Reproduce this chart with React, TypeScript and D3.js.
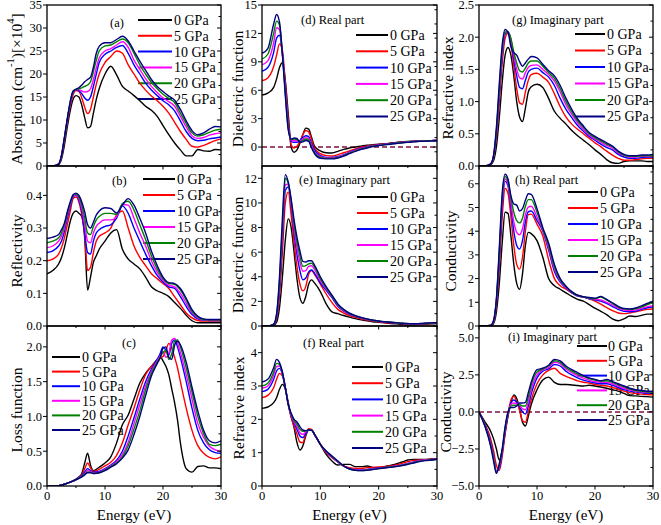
import React from 'react';
import * as d3 from 'd3';

// ---------- shared axes data ----------
const ENERGY = [0,1,2,2.5,3,3.5,4,4.5,5,5.5,6,6.5,7,7.5,8,8.5,9,10,11,12,13,14,15,16,17,18,19,20,21,22,23,24,25,26,27,28,29,30];
const ENERGY_LOSS = [0,1,2,3,4,5,5.5,6,6.5,7,7.5,8,9,10,11,12,13,14,15,16,17,18,19,19.5,20,20.5,21,21.5,22,22.5,23,24,25,26,27,28,29,30];
const PRESSURE_LABELS = ['0 GPa','5 GPa','10 GPa','15 GPa','20 GPa','25 GPa'];
const SERIES_COLORS = ['#000000','#ff0000','#0000ff','#ff00ff','#008000','#000080'];
const X_MAJOR = [0,10,20,30];
const X_MINOR = [5,15,25];

// ---------- (a) absorption ----------
const ABS_0 = [0,0,0.3,1.5,4.5,8.5,12,14.5,15.3,15,13.2,10.5,8.3,8.6,11.5,14.5,16.8,20,21.7,19.8,17.3,16.3,15.3,14.2,13,12.1,10.8,8.8,6.8,5,3.5,2.2,2.2,3.6,3.3,3.2,3.6,3.5];
const ABS_5 = [0,0,0.4,2,5.5,9.5,13,15.5,16.4,16.2,14.8,12.8,11.4,12.3,15,17.8,20,22.5,23.8,25,24.5,22,20,18,16.5,15.2,14.2,13,11.5,9.5,7.5,5.8,4.3,4.1,4.5,5,5.5,5.9];
const ABS_10 = [0,0,0.4,2.2,6,10,13.5,16,16.6,16.4,15.7,14.8,14.3,15,17.3,20,22.5,24.3,25,25.8,26.2,24.5,22,20,18,16.5,15.3,14.2,13.3,12,9.8,7.5,6,5.5,5.6,5.9,6.1,6.3];
const ABS_15 = [0,0,0.4,2.2,6,10,13.6,16.1,16.6,16.6,16.3,16.1,16.2,16.8,18.8,21.3,23.5,25,25.5,26.3,27,25.8,23,21,19,17.3,16,14.8,14,13,10.8,8.5,6.6,6,6.2,6.7,7,7.2];
const ABS_20 = [0,0,0.4,2.3,6,10.2,13.8,16.2,16.6,16.8,17,17.3,17.6,18.3,20.5,23,25,26.1,26.3,27,27.6,26.8,24.5,22,20,18.2,16.8,15.6,14.7,13.8,11.5,9.2,7.2,6.5,6.8,7.3,7.8,8];
const ABS_25 = [0,0,0.4,2.3,6.2,10.3,14,16.3,16.7,17,17.6,18.3,18.8,19.3,21.5,24.5,26,26.8,26.8,27.5,28.2,27.2,25,22.8,20.8,18.8,17.3,16.2,15.2,14.3,12.3,9.8,7.7,6.8,7.2,8,8.6,8.5];

// ---------- (b) reflectivity ----------
const REF_0 = [0.16,0.17,0.19,0.21,0.24,0.28,0.32,0.345,0.352,0.345,0.335,0.27,0.11,0.15,0.195,0.215,0.235,0.26,0.285,0.295,0.235,0.205,0.19,0.175,0.15,0.12,0.108,0.1,0.09,0.072,0.054,0.033,0.016,0.01,0.01,0.01,0.01,0.01];
const REF_5 = [0.2,0.205,0.22,0.24,0.27,0.31,0.35,0.39,0.395,0.38,0.34,0.28,0.17,0.18,0.225,0.26,0.275,0.285,0.3,0.34,0.352,0.3,0.245,0.21,0.185,0.16,0.145,0.13,0.115,0.09,0.065,0.04,0.025,0.017,0.015,0.015,0.015,0.015];
const REF_10 = [0.225,0.23,0.245,0.26,0.29,0.33,0.365,0.395,0.4,0.385,0.35,0.285,0.225,0.22,0.26,0.285,0.295,0.305,0.31,0.33,0.368,0.345,0.3,0.26,0.22,0.185,0.155,0.135,0.12,0.115,0.09,0.06,0.035,0.022,0.018,0.017,0.017,0.017];
const REF_15 = [0.24,0.245,0.26,0.275,0.3,0.34,0.37,0.398,0.402,0.39,0.36,0.31,0.26,0.255,0.285,0.305,0.315,0.325,0.325,0.335,0.372,0.37,0.33,0.285,0.245,0.2,0.165,0.14,0.125,0.12,0.1,0.07,0.04,0.025,0.019,0.018,0.018,0.018];
const REF_20 = [0.255,0.26,0.27,0.285,0.31,0.345,0.375,0.4,0.405,0.395,0.37,0.33,0.285,0.28,0.305,0.325,0.335,0.345,0.345,0.342,0.375,0.382,0.355,0.31,0.265,0.215,0.175,0.145,0.13,0.128,0.11,0.08,0.045,0.028,0.02,0.019,0.019,0.019];
const REF_25 = [0.268,0.272,0.28,0.295,0.315,0.35,0.38,0.402,0.407,0.4,0.38,0.35,0.31,0.3,0.318,0.34,0.352,0.362,0.36,0.346,0.37,0.39,0.37,0.33,0.285,0.23,0.185,0.15,0.133,0.13,0.115,0.085,0.05,0.03,0.022,0.02,0.02,0.02];

// ---------- (c) loss function (on ENERGY_LOSS) ----------
const LOSS_0 = [0,0,0.005,0.025,0.055,0.1,0.13,0.18,0.33,0.47,0.3,0.22,0.27,0.33,0.42,0.62,0.88,1.02,1.25,1.48,1.62,1.72,1.82,1.86,1.8,1.72,1.6,1.4,1.2,0.95,0.62,0.25,0.2,0.28,0.29,0.26,0.26,0.25];
const LOSS_5 = [0,0,0.005,0.025,0.055,0.09,0.12,0.16,0.25,0.33,0.26,0.21,0.24,0.29,0.34,0.44,0.62,0.88,1.12,1.38,1.6,1.72,1.8,1.84,1.86,1.95,2.05,1.98,1.85,1.7,1.5,1.12,0.8,0.58,0.47,0.41,0.39,0.42];
const LOSS_10 = [0,0,0.005,0.025,0.055,0.09,0.12,0.15,0.2,0.25,0.22,0.2,0.21,0.25,0.3,0.37,0.5,0.72,0.98,1.25,1.5,1.68,1.82,1.9,2.0,1.95,1.88,2.05,2.1,2.0,1.85,1.5,1.12,0.8,0.62,0.52,0.48,0.47];
const LOSS_15 = [0,0,0.005,0.025,0.055,0.09,0.115,0.14,0.18,0.22,0.21,0.19,0.2,0.24,0.29,0.35,0.45,0.63,0.9,1.17,1.44,1.65,1.8,1.87,1.93,1.85,1.9,2.1,2.12,2.05,1.92,1.6,1.25,0.9,0.7,0.57,0.52,0.5];
const LOSS_20 = [0,0,0.005,0.025,0.055,0.09,0.11,0.135,0.17,0.2,0.2,0.18,0.19,0.23,0.28,0.33,0.42,0.58,0.82,1.08,1.38,1.62,1.78,1.85,1.92,1.95,1.82,1.9,2.08,2.1,2.0,1.7,1.35,1.0,0.75,0.6,0.58,0.6];
const LOSS_25 = [0,0,0.005,0.025,0.055,0.09,0.11,0.13,0.16,0.19,0.19,0.18,0.19,0.22,0.27,0.32,0.4,0.52,0.74,1.0,1.3,1.58,1.76,1.84,1.98,2.0,1.85,1.82,2.02,2.08,2.03,1.78,1.42,1.08,0.8,0.65,0.62,0.65];

// ---------- (d) dielectric real ----------
const EPS1_0 = [5.5,5.7,6.3,7.2,8.4,8.9,7.0,3.5,0,-0.55,-0.3,0.4,1.3,2.0,1.9,1.0,0.1,-0.4,-0.6,-0.62,-0.45,-0.25,-0.1,0,0.1,0.2,0.25,0.3,0.35,0.42,0.5,0.55,0.6,0.62,0.65,0.67,0.68,0.7];
const EPS1_5 = [7,7.3,8.5,9.7,10.9,10.2,6.8,3.0,0.2,-0.1,0.1,0.6,1.3,1.75,1.6,0.8,-0.1,-0.7,-0.9,-0.95,-0.8,-0.6,-0.4,-0.2,0,0.1,0.2,0.27,0.33,0.4,0.45,0.5,0.55,0.6,0.63,0.66,0.68,0.7];
const EPS1_10 = [8,8.4,10,11.5,11.8,9.8,6.3,2.5,0.6,0.5,0.5,0.7,1.0,1.2,1.1,0.4,-0.3,-0.9,-1.1,-1.1,-1.0,-0.8,-0.55,-0.3,-0.1,0.05,0.15,0.22,0.3,0.37,0.43,0.5,0.55,0.6,0.63,0.66,0.68,0.7];
const EPS1_15 = [8.7,9.1,11,12.6,12.4,9.8,6.0,2.2,0.7,0.7,0.65,0.6,0.85,1.0,0.9,0.2,-0.5,-1.0,-1.15,-1.15,-1.05,-0.85,-0.6,-0.35,-0.15,0,0.12,0.2,0.28,0.35,0.42,0.48,0.54,0.58,0.62,0.65,0.67,0.7];
const EPS1_20 = [9.3,9.8,12,13.3,12.9,9.8,5.7,2.0,0.8,0.85,0.8,0.55,0.7,0.85,0.75,0,-0.6,-1.1,-1.2,-1.2,-1.1,-0.9,-0.65,-0.4,-0.2,-0.05,0.08,0.18,0.26,0.33,0.4,0.46,0.52,0.57,0.61,0.64,0.66,0.68];
const EPS1_25 = [9.9,10.4,13,14,13.2,9.8,5.4,1.8,0.85,0.95,0.9,0.5,0.55,0.7,0.6,-0.1,-0.7,-1.2,-1.25,-1.25,-1.15,-0.95,-0.7,-0.45,-0.25,-0.1,0.05,0.15,0.23,0.3,0.38,0.44,0.5,0.55,0.6,0.63,0.65,0.67];

// ---------- (e) dielectric imaginary ----------
const EPS2_0 = [0,0,0.05,0.3,1.5,4,7,8.7,8,6,3.8,2.3,1.85,2.4,3.4,3.75,3.5,2.8,1.8,1.15,1,0.85,0.72,0.6,0.5,0.42,0.35,0.3,0.25,0.2,0.17,0.14,0.1,0.1,0.12,0.15,0.18,0.2];
const EPS2_5 = [0,0,0.1,0.6,2.5,6,10,10.9,9,6.8,4.8,3.4,2.85,3.2,4.2,4.5,4.2,3.4,2.6,1.9,1.35,1.05,0.85,0.7,0.58,0.48,0.4,0.34,0.29,0.25,0.21,0.18,0.15,0.13,0.15,0.18,0.2,0.22];
const EPS2_10 = [0,0,0.12,0.7,3,7,11,11.3,9.8,7.6,5.8,4.5,3.75,3.9,4.4,4.55,4.3,3.5,2.9,2.3,1.6,1.2,0.95,0.78,0.64,0.53,0.45,0.38,0.32,0.28,0.24,0.2,0.17,0.15,0.17,0.2,0.22,0.24];
const EPS2_15 = [0,0,0.13,0.8,3.3,7.5,11.5,11.5,10,8,6.3,5.2,4.45,4.5,4.85,4.9,4.6,3.7,3,2.4,1.7,1.25,1,0.8,0.66,0.55,0.46,0.39,0.33,0.29,0.25,0.21,0.18,0.16,0.18,0.21,0.23,0.25];
const EPS2_20 = [0,0,0.14,0.9,3.6,8,12,11.6,10.2,8.3,6.8,5.7,4.85,4.9,5.05,5.1,4.8,3.85,3.1,2.45,1.75,1.3,1.02,0.82,0.68,0.56,0.47,0.4,0.34,0.3,0.26,0.22,0.19,0.17,0.19,0.22,0.24,0.26];
const EPS2_25 = [0,0,0.15,1,4,8.8,12.3,11.7,10.3,8.6,7.2,6.1,5.25,5.2,5.3,5.3,4.95,4,3.2,2.5,1.8,1.35,1.05,0.85,0.7,0.58,0.48,0.41,0.35,0.31,0.27,0.23,0.2,0.18,0.2,0.23,0.25,0.27];

// ---------- (f) refractive index real ----------
const NR_0 = [2.33,2.37,2.5,2.65,2.9,3.05,2.9,2.5,2.1,1.75,1.3,1.08,1.2,1.5,1.68,1.68,1.55,1.25,0.95,0.75,0.63,0.65,0.65,0.58,0.58,0.6,0.56,0.55,0.58,0.62,0.66,0.72,0.78,0.8,0.8,0.8,0.81,0.82];
const NR_5 = [2.65,2.72,2.95,3.2,3.38,3.3,2.95,2.45,2.05,1.8,1.55,1.32,1.3,1.55,1.72,1.7,1.55,1.25,1,0.85,0.72,0.6,0.55,0.53,0.53,0.55,0.56,0.57,0.58,0.6,0.63,0.68,0.73,0.77,0.78,0.79,0.8,0.8];
const NR_10 = [2.83,2.9,3.2,3.45,3.53,3.35,2.95,2.45,2.1,1.88,1.7,1.5,1.45,1.58,1.68,1.68,1.55,1.25,1.02,0.87,0.72,0.6,0.52,0.49,0.48,0.5,0.52,0.54,0.56,0.58,0.6,0.63,0.68,0.72,0.76,0.78,0.79,0.8];
const NR_15 = [2.93,3,3.32,3.58,3.6,3.37,2.95,2.45,2.12,1.92,1.78,1.6,1.55,1.62,1.68,1.67,1.55,1.25,1.03,0.88,0.73,0.6,0.52,0.48,0.47,0.49,0.51,0.53,0.55,0.57,0.6,0.62,0.67,0.71,0.75,0.78,0.79,0.8];
const NR_20 = [3,3.08,3.42,3.68,3.65,3.4,2.95,2.45,2.15,1.96,1.85,1.7,1.64,1.65,1.68,1.67,1.55,1.25,1.04,0.89,0.74,0.6,0.51,0.47,0.46,0.48,0.5,0.52,0.55,0.57,0.59,0.62,0.66,0.7,0.74,0.77,0.78,0.8];
const NR_25 = [3.12,3.2,3.55,3.8,3.7,3.42,2.95,2.45,2.18,2,1.92,1.78,1.68,1.66,1.68,1.67,1.55,1.25,1.05,0.9,0.75,0.6,0.51,0.47,0.46,0.47,0.49,0.52,0.54,0.56,0.58,0.61,0.65,0.69,0.73,0.76,0.78,0.8];

// ---------- (g) refractive index imaginary ----------
const NK_0 = [0,0,0.02,0.08,0.3,0.75,1.3,1.72,1.84,1.72,1.4,1.0,0.76,0.69,0.9,1.15,1.23,1.27,1.22,1.05,0.85,0.74,0.65,0.55,0.47,0.4,0.33,0.25,0.18,0.1,0.05,0.04,0.07,0.08,0.08,0.08,0.07,0.07];
const NK_5 = [0,0,0.03,0.13,0.45,1,1.6,1.98,2.06,1.9,1.55,1.2,0.98,0.96,1.15,1.33,1.42,1.44,1.38,1.3,1.12,0.92,0.76,0.65,0.57,0.5,0.43,0.36,0.3,0.23,0.17,0.12,0.09,0.09,0.1,0.11,0.12,0.12];
const NK_10 = [0,0,0.03,0.14,0.5,1.1,1.7,2.05,2.08,1.95,1.65,1.4,1.22,1.2,1.33,1.46,1.5,1.52,1.45,1.38,1.25,1.05,0.88,0.75,0.63,0.54,0.46,0.4,0.34,0.29,0.25,0.18,0.14,0.12,0.12,0.13,0.14,0.14];
const NK_15 = [0,0,0.03,0.14,0.52,1.15,1.75,2.07,2.08,1.97,1.72,1.5,1.37,1.35,1.45,1.53,1.56,1.57,1.5,1.42,1.32,1.15,0.95,0.8,0.67,0.57,0.48,0.42,0.37,0.32,0.28,0.2,0.16,0.14,0.14,0.15,0.15,0.15];
const NK_20 = [0,0,0.03,0.15,0.55,1.2,1.8,2.08,2.08,1.98,1.77,1.6,1.48,1.46,1.52,1.6,1.63,1.63,1.55,1.45,1.36,1.2,1,0.84,0.7,0.6,0.5,0.44,0.39,0.34,0.3,0.22,0.17,0.15,0.15,0.16,0.16,0.16];
const NK_25 = [0,0,0.03,0.16,0.6,1.28,1.88,2.12,2.08,1.85,1.76,1.72,1.62,1.55,1.6,1.66,1.7,1.68,1.58,1.48,1.4,1.25,1.05,0.88,0.73,0.62,0.52,0.46,0.41,0.36,0.31,0.23,0.18,0.16,0.16,0.17,0.17,0.18];

// ---------- (h) conductivity real ----------
const SIG1_0 = [0,0,0,0.1,0.6,1.8,3.5,4.8,4.75,3.8,2.6,1.8,1.55,2.2,3.4,3.95,3.9,3.6,2.9,2,1.7,1.55,1.4,1.25,1.12,1.05,0.9,0.75,0.62,0.48,0.3,0.22,0.3,0.42,0.4,0.45,0.5,0.5];
const SIG1_5 = [0,0,0.02,0.15,0.9,2.5,4.6,5.8,5.6,4.6,3.4,2.6,2.4,2.9,4,4.7,4.72,4.3,3.8,2.8,2,1.7,1.55,1.4,1.3,1.22,1.15,1.05,0.92,0.78,0.65,0.55,0.52,0.55,0.6,0.65,0.7,0.72];
const SIG1_10 = [0,0,0.02,0.18,1,2.8,5,6.1,5.9,5,4,3.4,3.25,3.6,4.4,4.82,4.85,4.45,4,3.2,2.3,1.85,1.6,1.4,1.26,1.22,1.15,1.1,1.05,0.95,0.82,0.7,0.62,0.6,0.63,0.7,0.77,0.8];
const SIG1_15 = [0,0,0.02,0.2,1.05,3,5.2,6.2,6,5.2,4.4,3.95,3.85,4.1,4.7,5.02,5.05,4.6,4.05,3.3,2.4,1.9,1.62,1.42,1.27,1.23,1.17,1.12,1.1,1,0.88,0.76,0.67,0.65,0.67,0.75,0.82,0.85];
const SIG1_20 = [0,0,0.02,0.2,1.1,3.1,5.4,6.3,6.1,5.4,4.8,4.45,4.35,4.55,5.05,5.33,5.33,4.8,4.1,3.4,2.5,1.95,1.65,1.43,1.28,1.23,1.18,1.15,1.22,1.1,0.95,0.8,0.72,0.7,0.73,0.8,0.9,0.98];
const SIG1_25 = [0,0,0.02,0.22,1.15,3.3,5.6,6.4,6.2,5.5,5.15,5.1,4.85,4.95,5.3,5.58,5.55,4.95,4.15,3.5,2.6,2,1.68,1.45,1.3,1.24,1.2,1.17,1.25,1.12,0.98,0.83,0.74,0.72,0.76,0.85,0.95,1.05];

// ---------- (i) conductivity imaginary ----------
const SIG2_0 = [0,-0.65,-1.3,-1.8,-2.5,-3.25,-2.6,-1.4,-0.3,0.6,1.15,0.9,0.2,-0.7,-0.95,-0.3,0.5,1.5,2.15,2.35,2,1.85,1.85,1.82,1.78,1.75,1.8,1.75,1.68,1.6,1.5,1.4,1.25,1.1,1.08,1.05,1.03,1];
const SIG2_5 = [0,-0.8,-1.8,-2.6,-3.6,-3.95,-3,-1.5,-0.2,0.8,1.05,0.7,0.1,-0.6,-0.7,0,0.8,1.9,2.5,2.8,2.95,2.6,2.4,2.25,2.1,2,1.95,1.85,1.8,1.75,1.65,1.55,1.4,1.3,1.25,1.2,1.18,1.15];
const SIG2_10 = [0,-0.85,-2,-2.9,-4,-3.8,-2.8,-1.3,-0.15,0.6,0.8,0.65,0.35,0,-0.15,0.4,1.2,2.3,2.75,2.9,3.2,3.1,2.75,2.5,2.3,2.15,2.05,1.95,1.9,1.9,1.8,1.65,1.5,1.4,1.35,1.3,1.25,1.25];
const SIG2_15 = [0,-0.88,-2.1,-3,-4.05,-3.7,-2.7,-1.2,-0.1,0.5,0.6,0.55,0.45,0.2,0.15,0.7,1.5,2.5,2.85,3,3.35,3.25,2.9,2.65,2.45,2.28,2.15,2.05,2,2,1.9,1.75,1.6,1.48,1.4,1.35,1.3,1.3];
const SIG2_20 = [0,-0.9,-2.2,-3.1,-4.1,-3.6,-2.6,-1.1,-0.05,0.4,0.45,0.45,0.5,0.4,0.4,1,1.8,2.7,2.9,3.1,3.45,3.35,3,2.75,2.55,2.4,2.25,2.15,2.08,2.1,2,1.85,1.7,1.55,1.45,1.4,1.35,1.35];
const SIG2_25 = [0,-0.95,-2.3,-3.3,-4.15,-3.5,-2.5,-1,0,0.3,0.3,0.4,0.6,0.6,0.65,1.3,2,2.85,2.95,3.15,3.55,3.45,3.1,2.85,2.65,2.45,2.3,2.2,2.1,2.2,2.05,1.9,1.75,1.6,1.5,1.45,1.4,1.4];

// ---------- layout ----------
const COLS: [number, number][] = [[47, 221], [262, 437], [479, 653]];
const ROWS: [number, number][] = [[5, 166], [166, 326], [326, 486]];
const FONT = 'Liberation Serif, DejaVu Serif, serif';

type Panel = {
  id: string; col: number; row: number; energy: number[]; series: number[][];
  domain: [number, number]; major: number[]; minorStep: number; fmt: (v: number) => string;
  title: string; titleX: number; titleY: number; label: string; labelX: number; labelY: number;
  legend: { x1: number; x2: number; tx: number; y0: number; dy: number }; zero?: boolean;
};

const f0 = d3.format('d');
const f1 = d3.format('.1f');

const PANELS: Panel[] = [
  { id: 'a', col: 0, row: 0, energy: ENERGY, series: [ABS_0, ABS_5, ABS_10, ABS_15, ABS_20, ABS_25], domain: [0, 35], major: [0,5,10,15,20,25,30,35], minorStep: 2.5, fmt: f0,
    title: 'ABS', titleX: 18, titleY: 89, label: '(a)', labelX: 110, labelY: 27, legend: { x1: 138, x2: 172, tx: 174, y0: 20, dy: 15.8 } },
  { id: 'b', col: 0, row: 1, energy: ENERGY, series: [REF_0, REF_5, REF_10, REF_15, REF_20, REF_25], domain: [0, 0.49], major: [0,0.1,0.2,0.3,0.4], minorStep: 0.05, fmt: f1,
    title: 'Reflectivity', titleX: 18, titleY: 251, label: '(b)', labelX: 112, labelY: 185, legend: { x1: 143, x2: 175, tx: 177, y0: 179, dy: 16 } },
  { id: 'c', col: 0, row: 2, energy: ENERGY_LOSS, series: [LOSS_0, LOSS_5, LOSS_10, LOSS_15, LOSS_20, LOSS_25], domain: [0, 2.3], major: [0,0.5,1,1.5,2], minorStep: 0.25, fmt: f1,
    title: 'Loss function', titleX: 18, titleY: 410, label: '(c)', labelX: 122, labelY: 347, legend: { x1: 52, x2: 80, tx: 82, y0: 357, dy: 14.6 } },
  { id: 'd', col: 1, row: 0, energy: ENERGY, series: [EPS1_0, EPS1_5, EPS1_10, EPS1_15, EPS1_20, EPS1_25], domain: [-2, 15], major: [0,3,6,9,12,15], minorStep: 1.5, fmt: f0,
    title: 'Dielectric function', titleX: 239, titleY: 89, label: '(d) Real part', labelX: 301, labelY: 24, legend: { x1: 356, x2: 388, tx: 390, y0: 35, dy: 16.3 }, zero: true },
  { id: 'e', col: 1, row: 1, energy: ENERGY, series: [EPS2_0, EPS2_5, EPS2_10, EPS2_15, EPS2_20, EPS2_25], domain: [0, 13], major: [0,2,4,6,8,10,12], minorStep: 1, fmt: f0,
    title: 'Dielectric function', titleX: 239, titleY: 255, label: '(e) Imaginary part', labelX: 299, labelY: 184, legend: { x1: 357, x2: 388, tx: 390, y0: 197, dy: 16 } },
  { id: 'f', col: 1, row: 2, energy: ENERGY, series: [NR_0, NR_5, NR_10, NR_15, NR_20, NR_25], domain: [0, 4.8], major: [0,1,2,3,4], minorStep: 0.5, fmt: f0,
    title: 'Refractive index', titleX: 240, titleY: 408, label: '(f) Real part', labelX: 303, labelY: 347, legend: { x1: 352, x2: 383, tx: 385, y0: 367, dy: 16.2 } },
  { id: 'g', col: 2, row: 0, energy: ENERGY, series: [NK_0, NK_5, NK_10, NK_15, NK_20, NK_25], domain: [0, 2.5], major: [0,0.5,1,1.5,2,2.5], minorStep: 0.25, fmt: f1,
    title: 'Refractive index', titleX: 449, titleY: 88, label: '(g) Imaginary part', labelX: 512, labelY: 24, legend: { x1: 575, x2: 605, tx: 607, y0: 34, dy: 16.5 } },
  { id: 'h', col: 2, row: 1, energy: ENERGY, series: [SIG1_0, SIG1_5, SIG1_10, SIG1_15, SIG1_20, SIG1_25], domain: [0, 6.75], major: [0,1,2,3,4,5,6], minorStep: 0.5, fmt: f0,
    title: 'Conductivity', titleX: 452, titleY: 251, label: '(h) Real part', labelX: 515, labelY: 184, legend: { x1: 568, x2: 598, tx: 600, y0: 192, dy: 16 } },
  { id: 'i', col: 2, row: 2, energy: ENERGY, series: [SIG2_0, SIG2_5, SIG2_10, SIG2_15, SIG2_20, SIG2_25], domain: [-5, 5.8], major: [-5,-2.5,0,2.5,5], minorStep: 1.25, fmt: f1,
    title: 'Conductivity', titleX: 447, titleY: 412, label: '(i) Imaginary part', labelX: 508, labelY: 341, legend: { x1: 577, x2: 607, tx: 608, y0: 346, dy: 14.8 }, zero: true },
];

function PanelView({ p }: { p: Panel }) {
  const [x0, x1] = COLS[p.col];
  const [y0, y1] = ROWS[p.row];
  const xs = d3.scaleLinear().domain([0, 30]).range([x0, x1]);
  const ys = d3.scaleLinear().domain(p.domain).range([y1, y0]);
  const line = d3.line<number>()
    .x((_, i) => xs(p.energy[i]))
    .y((v) => ys(v))
    .curve(d3.curveMonotoneX);
  const minors = d3.range(p.domain[0], p.domain[1] + 1e-9, p.minorStep)
    .map((v) => +v.toFixed(4))
    .filter((v) => !p.major.some((m) => Math.abs(m - v) < 1e-6));
  const clipId = `clip-${p.id}`;
  const bottom = p.row === 2;
  return (
    <g>
      <defs>
        <clipPath id={clipId}><rect x={x0} y={y0} width={x1 - x0} height={y1 - y0} /></clipPath>
      </defs>
      <text x={p.labelX} y={p.labelY} fontSize={12.5}>{p.label}</text>
      {PRESSURE_LABELS.map((lab, k) => {
        const yy = p.legend.y0 + k * p.legend.dy;
        return (
          <g key={`lg${k}`}>
            <line x1={p.legend.x1} x2={p.legend.x2} y1={yy} y2={yy} stroke={SERIES_COLORS[k]} strokeWidth={2} />
            <text x={p.legend.tx} y={yy} dy="0.35em" fontSize={14}>{lab}</text>
          </g>
        );
      })}
      {p.zero && (
        <line x1={x0} x2={x1} y1={ys(0)} y2={ys(0)} stroke="#801040" strokeWidth={1.4} strokeDasharray="5,3" />
      )}
      <g clipPath={`url(#${clipId})`}>
        {p.series.map((s, k) => (
          <path key={k} d={line(s) || ''} fill="none" stroke={SERIES_COLORS[k]} strokeWidth={1.4} strokeLinejoin="round" />
        ))}
      </g>
      <rect x={x0} y={y0} width={x1 - x0} height={y1 - y0} fill="none" stroke="#000" strokeWidth={1.3} />
      {p.major.map((v) => (
        <g key={`l${v}`}>
          <line x1={x0 - 4} x2={x0} y1={ys(v)} y2={ys(v)} stroke="#000" strokeWidth={1} />
          <line x1={x1 - 4} x2={x1} y1={ys(v)} y2={ys(v)} stroke="#000" strokeWidth={1} />
          <text x={x0 - 5} y={ys(v)} dy="0.35em" textAnchor="end" fontSize={12.5}>{p.fmt(v)}</text>
        </g>
      ))}
      {minors.map((v) => (
        <line key={`m${v}`} x1={x1 - 2.5} x2={x1} y1={ys(v)} y2={ys(v)} stroke="#000" strokeWidth={1} />
      ))}
      {X_MAJOR.map((v) => (
        <line key={`xm${v}`} x1={xs(v)} x2={xs(v)} y1={y1} y2={y1 + 3.5} stroke="#000" strokeWidth={1} />
      ))}
      {X_MINOR.map((v) => (
        <line key={`xn${v}`} x1={xs(v)} x2={xs(v)} y1={y1} y2={y1 + 2} stroke="#000" strokeWidth={1} />
      ))}
      {bottom && X_MAJOR.map((v) => (
        <text key={`xl${v}`} x={xs(v)} y={y1 + 14} textAnchor="middle" fontSize={12.5}>{v}</text>
      ))}
      {bottom && (
        <text x={(x0 + x1) / 2} y={520} textAnchor="middle" fontSize={15}>Energy (eV)</text>
      )}
      <text transform={`translate(${p.titleX},${p.titleY}) rotate(-90)`} textAnchor="middle" dominantBaseline="middle" fontSize={15.5}>
        {p.title === 'ABS' ? (
          <>
            <tspan>Absorption (cm</tspan>
            <tspan fontSize={10.5} dy={-6}>-1</tspan>
            <tspan dy={6}>)[×10</tspan>
            <tspan fontSize={10.5} dy={-6}>4</tspan>
            <tspan dy={6}>]</tspan>
          </>
        ) : p.title}
      </text>
    </g>
  );
}

export default function App() {
  return (
    <svg width={661} height={525} style={{ position: 'absolute', left: 0, top: 0, background: '#fff', fontFamily: FONT }}>
      <rect x={0} y={0} width={661} height={525} fill="#fff" />
      {PANELS.map((p) => <PanelView key={p.id} p={p} />)}
    </svg>
  );
}
